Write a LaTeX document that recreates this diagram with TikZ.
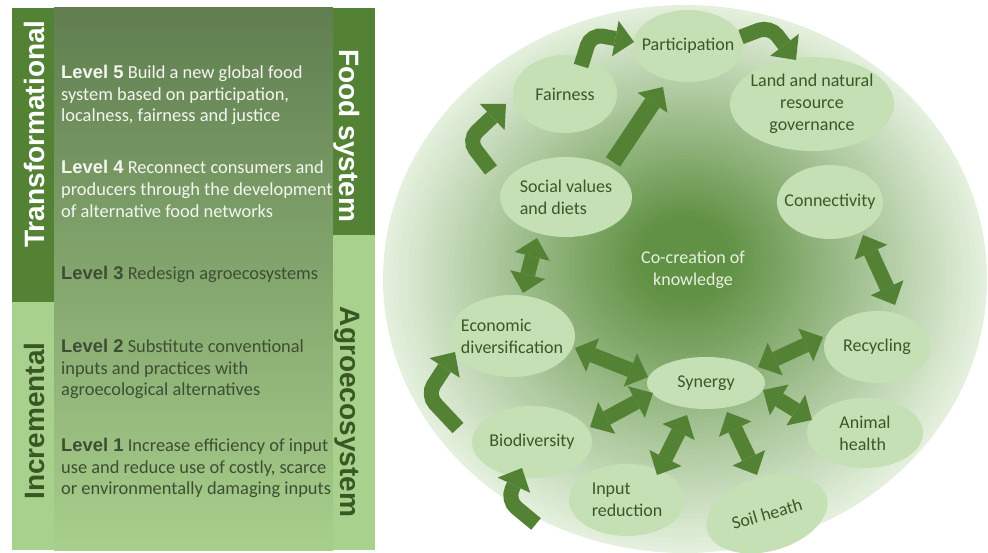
\documentclass[tikz,border=0pt]{standalone}
\usepackage{fontspec}
\setmainfont{Carlito}
\newfontfamily\lsans{Liberation Sans}
\usetikzlibrary{shapes.geometric,arrows.meta,calc}

\definecolor{dkgreen}{RGB}{84,130,53}
\definecolor{ltgreen}{RGB}{169,209,142}
\definecolor{midtop}{RGB}{96,126,80}
\definecolor{midbot}{RGB}{168,207,140}
\definecolor{lbldark}{RGB}{56,87,35}
\definecolor{lvldark}{RGB}{62,78,52}
\definecolor{lvllight}{RGB}{244,246,240}
\definecolor{bubfill}{RGB}{197,224,180}
\definecolor{bubtext}{RGB}{58,88,40}
\definecolor{arrowgreen}{RGB}{84,130,53}
\definecolor{cocreate}{RGB}{232,240,226}
\definecolor{gcdark}{RGB}{96,145,68}
\definecolor{gclight}{RGB}{228,240,221}

\newcommand{\lvl}[1]{{\lsans\bfseries #1}}

\tikzset{
  bigtip/.tip={Triangle[length=19pt,width=36pt,line width=0pt]},
  onearrow/.style={draw=arrowgreen, line width=15pt, -bigtip, rounded corners=12pt},
  twoarrow/.style={draw=arrowgreen, line width=15pt, bigtip-bigtip},
  bub/.style={ellipse, fill=bubfill, text=bubtext, inner xsep=-10pt, inner ysep=0pt,
    font=\fontsize{18}{22}\selectfont, align=center},
  leveltext/.style={anchor=west, align=left, inner sep=0pt, font=\fontsize{18.4}{21.7}\selectfont},
  biglabel/.style={inner sep=0pt, font=\lsans\bfseries\fontsize{28}{30}\selectfont},
}

\begin{document}
\begin{tikzpicture}[x=1pt,y=-1pt]
\useasboundingbox (0,0) rectangle (988,553);
\clip (0,0) rectangle (988,553);

% ---------- left panel ----------
\fill[ltgreen] (12,8) rectangle (54,550);
\fill[dkgreen] (12,8) rectangle (54,302);
\shade[top color=midtop, bottom color=midbot] (54,8) rectangle (333,550);
\fill[ltgreen] (333,8) rectangle (375,550);
\fill[dkgreen] (333,8) rectangle (375,235);

\node[biglabel, rotate=90, text=white] (trans) at (34,134) {Transformational};
\node[biglabel, rotate=90, text=lbldark] (incr) at (34,421) {Incremental};
\node[biglabel, rotate=-90, text=white] (foodsys) at (347,136) {Food system};
\node[biglabel, rotate=-90, text=lbldark] (agro) at (347,412) {Agroecosystem};

\node[leveltext, text=lvllight] (l5) at (61,95) {\lvl{Level 5} Build a new global food\\system based on participation,\\localness, fairness and justice};
\node[leveltext, text=lvllight] (l4) at (61,189) {\lvl{Level 4} Reconnect consumers and\\producers through the development\\of alternative food networks};
\node[leveltext, text=lvldark] (l3) at (61,274) {\lvl{Level 3} Redesign agroecosystems};
\node[leveltext, text=lvldark] (l2) at (61,369) {\lvl{Level 2} Substitute conventional\\inputs and practices with\\agroecological alternatives};
\node[leveltext, text=lvldark] (l1) at (61,468) {\lvl{Level 1} Increase efficiency of input\\use and reduce use of costly, scarce\\or environmentally damaging inputs};

% ---------- big circle (radial glow built from concentric ellipses) ----------
\foreach \i in {0,...,59}{
  \pgfmathsetmacro\rr{1-\i/60}
  \pgfmathsetmacro\pp{min(100,118*(1-\rr))}
  \pgfmathsetmacro\cy{279-24*(1-\rr)}
  \pgfmathsetmacro\rx{302*\rr}
  \pgfmathsetmacro\ry{274*\rr}
  \fill[gcdark!\pp!gclight] (685,\cy) ellipse [x radius=\rx pt, y radius=\ry pt];
}

\node[font=\fontsize{18}{22.5}\selectfont, text=cocreate, align=center] (cok) at (693,270) {Co-creation of\\knowledge};

\node[bub, minimum width=110pt, minimum height=72pt] (part) at (688,46) {Participation};
\node[bub, minimum width=104pt, minimum height=78pt] (fair) at (565,94) {Fairness};
\node[bub, minimum width=164pt, minimum height=94pt] (land) at (812,104) {Land and natural\\resource\\governance};
\node[bub, minimum width=132pt, minimum height=80pt, align=left] (soc) at (566,197) {Social values\\and diets};
\node[bub, minimum width=106pt, minimum height=74pt] (conn) at (830,202) {Connectivity};
\node[bub, minimum width=126pt, minimum height=82pt, align=left] (eco) at (512,336) {Economic\\diversification};
\node[bub, minimum width=106pt, minimum height=72pt] (rec) at (877,347) {Recycling};
\node[bub, minimum width=118pt, minimum height=52pt] (syn) at (706,383) {Synergy};
\node[bub, minimum width=116pt, minimum height=70pt, align=left] (ani) at (865,433) {Animal\\health};
\node[bub, minimum width=120pt, minimum height=72pt] (bio) at (532,442) {Biodiversity};
\node[bub, minimum width=116pt, minimum height=72pt, align=left] (inp) at (627,500) {Input\\reduction};
\node[bub, minimum width=124pt, minimum height=74pt, rotate=16] (soil) at (767,514) {Soil heath};

% ---------- arrows ----------
\draw[twoarrow] ($(soc)+(-29,41)$) -- ($(eco)+(11,-43)$);
\draw[twoarrow] ($(conn)+(33,33)$) -- ($(rec)+(18,-42)$);
\draw[twoarrow] ($(eco)+(63,12)$) -- ($(syn)+(-58,-6)$);
\draw[twoarrow] ($(bio)+(58,-15)$) -- ($(syn)+(-53,10)$);
\draw[twoarrow] ($(syn)+(-19,32)$) -- ($(inp)+(30,-25)$);
\draw[twoarrow] ($(syn)+(21,29)$) -- ($(soil)+(-10,-39)$);
\draw[twoarrow] ($(syn)+(57,7)$) -- ($(ani)+(-53,-13)$);
\draw[twoarrow] ($(syn)+(52,-16)$) -- ($(rec)+(-54,-10)$);
\draw[onearrow, line width=17pt] ($(soc)+(47,-35)$) -- ($(part)+(-25,41)$);

\draw[onearrow] ($(fair)+(16,-28)$) -- ($(fair)+(26,-60)$) -- ($(part)+(-54,-4)$);
\draw[onearrow] ($(part)+(53,-9)$) -- ($(part)+(82,-20)$) -- ($(land)+(-16,-44)$);
\draw[onearrow] ($(soc)+(-75,-27)$) -- ($(soc)+(-98,-57)$) -- ($(fair)+(-59,10)$);
\draw[onearrow] ($(bio)+(-74,-14)$) -- ($(bio)+(-105,-47)$) -- ($(eco)+(-57,16)$);
\draw[onearrow] ($(bio)+(4,82)$) -- ($(bio)+(-25,58)$) -- ($(bio)+(-10,26)$);
\end{tikzpicture}
\end{document}
